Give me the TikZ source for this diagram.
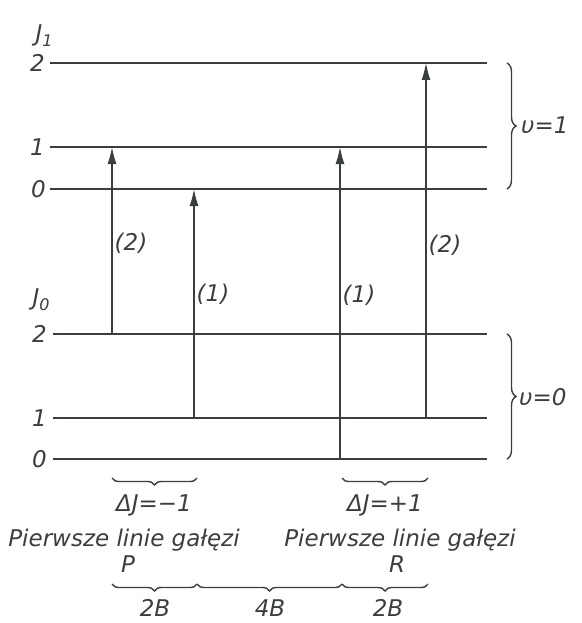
\documentclass[tikz,border=0pt]{standalone}
\usepackage{fontspec}
\setmainfont{DejaVu Sans}
\usetikzlibrary{decorations.pathreplacing,arrows.meta}
\definecolor{ink}{HTML}{3A3F3B}
\begin{document}
\begin{tikzpicture}[x=1pt,y=-1pt,
 level/.style={line width=2.3pt, draw=ink},
 trans/.style={line width=1.4pt, draw=ink, -{Latex[length=17pt,width=9pt]}},
 lbl/.style={font=\fontsize{23}{26}\selectfont\itshape, text=ink, inner sep=0pt},
 brc/.style={decorate, decoration={brace, amplitude=7pt}, line width=1.4pt, draw=ink}]
\useasboundingbox (0,0) rectangle (581,623);
% levels
\coordinate (u2L) at (50,63);  \coordinate (u2R) at (487,63);
\coordinate (u1L) at (50,147); \coordinate (u1R) at (487,147);
\coordinate (u0L) at (50,189); \coordinate (u0R) at (487,189);
\coordinate (l2L) at (53,334); \coordinate (l2R) at (487,334);
\coordinate (l1L) at (53,418); \coordinate (l1R) at (487,418);
\coordinate (l0L) at (53,459); \coordinate (l0R) at (487,459);
\foreach \n in {u2,u1,u0,l2,l1,l0} \draw[level] (\n L) -- (\n R);
% level labels
\node[lbl] (J1) at (44,36) {J\raisebox{-0.4ex}{\fontsize{16}{18}\selectfont 1}};
\node[lbl,anchor=east] (n u2) at (45,63) {2};
\node[lbl,anchor=east] (n u1) at (45,147) {1};
\node[lbl,anchor=east] (n u0) at (46,189) {0};
\node[lbl] (J0) at (41,300) {J\raisebox{-0.4ex}{\fontsize{16}{18}\selectfont 0}};
\node[lbl,anchor=east] (n l2) at (47,334) {2};
\node[lbl,anchor=east] (n l1) at (47,418) {1};
\node[lbl,anchor=east] (n l0) at (47,459) {0};
% transitions
\coordinate (a1s) at (112,334); \coordinate (a1e) at (112,147);
\coordinate (a2s) at (194,418); \coordinate (a2e) at (194,189);
\coordinate (a3s) at (340,459); \coordinate (a3e) at (340,147);
\coordinate (a4s) at (426,418); \coordinate (a4e) at (426,63);
\draw[trans] (a1s) -- (a1e);
\draw[trans] (a2s) -- (a2e);
\draw[trans] (a3s) -- (a3e);
\draw[trans] (a4s) -- (a4e);
\node[lbl] (t1) at (131,243) {(2)};
\node[lbl] (t2) at (213,294) {(1)};
\node[lbl] (t3) at (359,295) {(1)};
\node[lbl] (t4) at (445,245) {(2)};
% right braces
\coordinate (b1t) at (507,63);  \coordinate (b1b) at (507,189);
\coordinate (b0t) at (507,334); \coordinate (b0b) at (507,459);
\draw[brc,decoration={amplitude=9pt}] (b1t) -- (b1b);
\draw[brc,decoration={amplitude=9pt}] (b0t) -- (b0b);
\node[lbl,anchor=west] (v1) at (521,125) {υ=1};
\node[lbl,anchor=west] (v0) at (519,397) {υ=0};
% bottom braces
\coordinate (p1) at (112,478); \coordinate (p2) at (197,478);
\coordinate (r1) at (342,478); \coordinate (r2) at (428,478);
\draw[brc] (p2) -- (p1);
\draw[brc] (r2) -- (r1);
\node[lbl] (dP) at (154,505) {ΔJ=−1};
\node[lbl] (dR) at (385,505) {ΔJ=+1};
\node[lbl] (tP) at (124,540) {Pierwsze linie gałęzi};
\node[lbl] (tR) at (400,540) {Pierwsze linie gałęzi};
\node[lbl] (P) at (128,564) {P};
\node[lbl] (R) at (397,564) {R};
\coordinate (q1) at (112,584); \coordinate (q2) at (197,584);
\coordinate (q3) at (342,584); \coordinate (q4) at (428,584);
\draw[brc] (q2) -- (q1);
\draw[brc] (q3) -- (q2);
\draw[brc] (q4) -- (q3);
\node[lbl] (s1) at (155,608) {2B};
\node[lbl] (s2) at (270,608) {4B};
\node[lbl] (s3) at (388,608) {2B};
\end{tikzpicture}
\end{document}
